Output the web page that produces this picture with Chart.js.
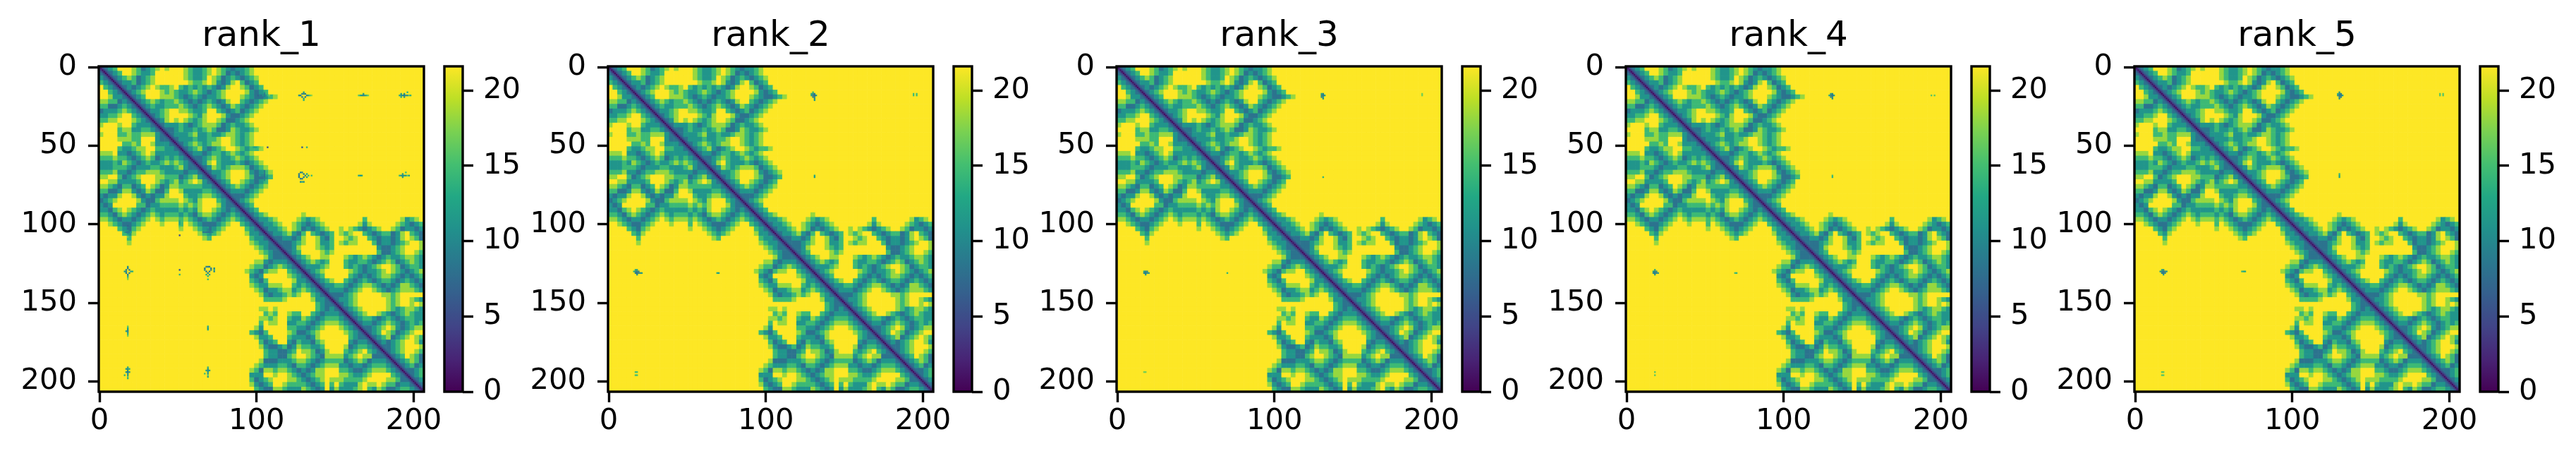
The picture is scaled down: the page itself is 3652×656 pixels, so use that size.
<!DOCTYPE html>
<html><head><meta charset="utf-8">
<style>html,body{margin:0;padding:0;background:#fff;width:3652px;height:656px;overflow:hidden}canvas{position:absolute;top:0}</style>
<script src="https://cdn.jsdelivr.net/npm/chart.js@4"></script>
</head><body>
<script>
const panelNames = ["rank_1","rank_2","rank_3","rank_4","rank_5"];
const xAxisTicks = [0,100,200];
const yAxisTicks = [0,50,100,150,200];
const colorbarTicks = [0,5,10,15,20];
const vMax = 21.6;
const residues = 207;
const coarseCell = 3;
const viridisStops = ["#440154","#482475","#414487","#355f8d","#2a788e","#21918c","#22a884","#44bf70","#7ad151","#bddf26","#fde725"];
// one character per 3x3 residue block
const levelValues = {".":21.6,"-":18.2,"+":14.6,"o":11.2,"#":8.2,"@":6.2};
// upper triangle; "col:chars" tokens start at that column
const distanceRows = [
"@#o+...-+#o+-.-...-+oo+-.-+o#oo+-",
".@#o+..-+oo+......-+oo+-.-+#o#o+-",
"..@#o+-+#o+-......-+oo+.-+#o+o#o+-",
"...@#oo+#o+-.......-++-.-o#o-.+#o+",
"....@#o#o+-.-++-.+o+o+o+o#o-..-+#o+",
".....@#o+-...-+-+oo+-+o#o+-....-o#o+",
"......@#o+...---+o#o+o#oo+-...-+o##o+-",
".......@#o+-+o++-+o#o#o+o#o-..+o#o+-",
"........@#o+oo+++-+o#o+-+o#o-+o#o+-",
".........@#oo+-..--+oo+..+o#o+#o+-",
"..........@#o+-....-+o-...-o##o+-",
"...........@#o-.-.-+o+-..-+##o+-",
"............@#ooo+o#o+---+#o+oo+-",
".............@##o+oo+o+-+##o-+oo+-",
"..............@#ooo+-oo+oo+--+o+-",
"...............@#ooo+oo++-..-+o+-",
"................@#o+-+o+--..-+o+-",
".................@#o+-o#o+-..-+o++-",
"..................@#oo#o++o+-+o+-",
"...................@##o+-+oo+-+o+-",
"....................@#o-.+ooo+o#o+-",
".....................@#o-+o+---+#o+-",
"......................@#oo+-...-o#o+-",
".......................@#o+-...-+##o+",
"........................@#o+..-+o#o+",
".........................@#o+-+o#o+-",
"..........................@#ooo#o+-",
"...........................@###o+-",
"............................@#o+-",
".............................@#o+",
"..............................@#o+",
"...............................@#o+- 43:-",
"................................@#oo+- 42:-+o+- 56:+ 64:-o+-",
"33:@#oo+- 41:-+o#o+- 55:-o- 63:-+o#o+-",
"34:@#oo+- 41:-+#o#o+- 51:-.-+o#o+- 62:-+#oo#o+-",
"35:@#oo+-o#+.+o#o+ 51:-+- 56:+o#o+ 61:+#o-.+o#",
"36:@##oo#o-..-o#+ 52:-+- 57:+o#oo#o-.-+#",
"37:@###o+-..-oo+ 51:-+-- 58:+#oo#o+-..-+",
"38:@##o-...-+o+ 59:o##o+-...-+",
"39:@#o+....-+- 59:+##o+-..-+",
"40:@#o+-..-- 52:-+o+- 57:+o#o+oo+--+o",
"41:@#o+-+o+ 52:+oo++o#o+-+#o+-+o",
"42:@#ooo+- 52:+o+o#o+-..-+#o++o",
"43:@#o+- 53:-+o#oo+-.-+o#o+-",
"44:@#o+ 53:+o#o#o+--+o#o#o+",
"45:@#o+- 52:+o#o+o#o++o#o+o#o",
"46:@#oo++o#o+--+o#o#o--+o#",
"47:@#ooo#o+-..-+o#o+---+o",
"48:@###o+-.....--+-",
"49:@#oo+- 61:-+- 66:-+o+",
"50:@#o+- 61:-+- 66:-.-",
"51:@#o+- 61:-+o+- 66:-+o+",
"52:@#o+- 59:-+o#o+- 66:+oo+",
"53:@#o++o#o+o#o++oo",
"54:@#oo#o+-+o#o+o+",
"55:@##o+-.-o#o+--",
"56:@#o+.-+#o+-..",
"57:@#o+-#o+-.-+",
"58:@#o#o+-..-o",
"59:@##o+-...-",
"60:@#o+-..-+",
"61:@#o+.-+#",
"62:@#o+-+#o",
"63:@#o+#o",
"64:@##o+",
"65:@#o+",
"66:@#o",
"67:@#",
"68:@"
];
// distance by sequence separation along the main diagonal
const diagonalValues = [0.7,3.6,6.2];
// isolated inter-chain contacts: [residue x, residue y, distance]
const rank1Spots = [
[101,18,7],[102,18,9],[103,18,8],[104,18,11],[105,16,12],[105,17,9],[105,18,9],[105,19,9],[105,20,12],[106,18,11],[107,18,14],[108,18,17],
[127,18,11],[128,18,9],[129,17,9],[129,19,9],[130,16,12],[130,17,10],[130,20,12],[131,17,9],[131,19,9],[132,18,9],[133,18,12],[134,18,15],[135,18,18],[130,21,14],
[165,18,16],[166,18,13],[167,18,11],[168,17,12],[168,18,9],[169,18,11],[170,18,14],[171,18,17],
[191,18,13],[192,17,12],[192,18,10],[192,19,13],[193,18,11],[194,17,11],[194,18,8],[194,19,11],[195,18,11],[196,16,14],[196,18,10],[197,18,16],[198,18,14],
[98,51,13],[99,51,12],[100,51,13],[101,51,15],[102,51,17],[107,51,5],[129,51,6],[132,51,14],
[104,66,12],[105,66,9],[105,67,9],[105,68,8],[105,69,8],[105,70,8],[105,71,9],[105,72,10],[105,73,14],[104,69,10],[103,69,10],[102,69,12],[106,69,13],
[127,68,9],[127,69,9],[127,70,9],[128,67,9],[128,71,9],[129,67,10],[129,71,9],[130,68,9],[130,70,9],[131,69,10],[132,68,13],[132,70,12],[133,69,14],[135,69,15],[128,73,10],[130,73,10],[129,73,13],
[165,69,13],[166,69,11],[167,69,13],
[191,69,14],[192,69,11],[193,68,12],[193,69,10],[193,70,12],[194,69,12],[195,67,15],[195,69,11],[197,69,12],[196,69,16]
];
const rank2Spots = [[129,17,13],[129,18,12],[130,16,14],[130,17,10],[130,18,9],[130,19,9],[131,17,9],[131,18,7],[131,19,9],[131,20,10],[131,21,12],[132,18,11],[131,69,13],[131,70,12],[194,17,15],[196,17,15],[194,18,15],[196,18,15]];
const rank3Spots = [[130,17,12],[130,18,10],[130,19,10],[131,17,10],[131,18,8],[131,19,10],[131,20,11],[132,18,12],[131,70,14],[194,17,17],[194,18,17]];
const rank4Spots = [[129,18,13],[130,17,11],[130,18,9],[130,19,10],[131,17,10],[131,18,8],[131,19,9],[131,20,11],[132,18,12],[131,69,15],[131,70,14],[194,18,16],[196,18,16]];
const rank5Spots = [[129,17,13],[129,18,11],[130,16,12],[130,17,9],[130,18,8],[130,19,9],[130,20,11],[131,17,9],[131,18,8],[131,19,9],[132,18,12],[130,68,14],[130,69,13],[130,70,13],[194,17,16],[196,17,16],[194,18,16],[196,18,16]];
const panelSpots = [rank1Spots,rank2Spots,rank3Spots,rank4Spots,rank5Spots];

const FONT = "'DejaVu Sans'";
function hexRgb(h){return [1,3,5].map(i=>parseInt(h.substr(i,2),16));}
const stopRgb = viridisStops.map(hexRgb);
function viridis(v){
  const t=Math.max(0,Math.min(1,v/vMax))*(stopRgb.length-1), i=Math.min(stopRgb.length-2,Math.floor(t)), f=t-i;
  const c=stopRgb[i].map((a,k)=>Math.round(a+(stopRgb[i+1][k]-a)*f));
  return `rgb(${c[0]},${c[1]},${c[2]})`;
}
// expand rows into a square table of levels (distance matrix is symmetric)
const n = distanceRows.length;
const table = Array.from({length:n},()=>Array(n).fill(levelValues["."]));
distanceRows.forEach((row,r)=>{
  row.split(" ").forEach(tok=>{
    const m = tok.indexOf(":")>=0 ? tok.split(":") : ["0",tok];
    const start=+m[0];
    [...m[1]].forEach((ch,k)=>{
      const c=start+k;
      if(c>=r && c<n){table[r][c]=levelValues[ch];table[c][r]=levelValues[ch];}
    });
  });
});
const coarsePoints=[];
for(let r=0;r<n;r++)for(let c=0;c<n;c++)coarsePoints.push({x:coarseCell*c+1,y:coarseCell*r+1,v:table[r][c]});
function finePoints(spots){
  const out=[];
  for(let i=0;i<residues;i++)diagonalValues.forEach((v,d)=>{
    if(i+d<residues){out.push({x:i+d,y:i,v});if(d)out.push({x:i,y:i+d,v});}
  });
  spots.forEach(s=>{out.push({x:s[0],y:s[1],v:s[2]});out.push({x:s[1],y:s[0],v:s[2]});});
  return out;
}
const spines={id:"spines",afterDatasetsDraw(ch){
  const a=ch.chartArea,x=ch.ctx;x.save();x.strokeStyle="#000";x.lineWidth=3.4;
  x.strokeRect(a.left,a.top,a.width,a.height);x.restore();
}};
const L0=140, STEP=721.5, AREA_W=461.5, TOP=94, BOT_MARGIN=101, CB_GAP=490, CB_W=26, H=656;
function tickScale(vals,extra){
  return Object.assign({
    afterBuildTicks:s=>{s.ticks=vals.map(value=>({value}));},
    border:{display:false},
    grid:{drawOnChartArea:false,drawTicks:true,tickLength:15,tickWidth:3.4,tickColor:"#000"},
  },extra);
}
const tickFont={family:FONT,size:41.67};
panelNames.forEach((name,i)=>{
  const leftPx=L0+STEP*i, leftM=130, rightM=60;
  const cv=document.createElement("canvas");
  cv.width=leftM+AREA_W+rightM;cv.height=H;
  cv.style.left=(leftPx-leftM)+"px";
  document.body.appendChild(cv);
  const cellRadius=(k,extra)=>((AREA_W/residues)*k+extra)/Math.SQRT2;
  const fine=finePoints(panelSpots[i]);
  new Chart(cv,{
    type:"scatter",
    data:{datasets:[
      {data:fine,pointStyle:"rect",pointRadius:cellRadius(1,0.15),pointBorderWidth:0,pointBackgroundColor:fine.map(p=>viridis(p.v))},
      {data:coarsePoints,pointStyle:"rect",pointRadius:cellRadius(coarseCell,0.6),pointBorderWidth:0,pointBackgroundColor:coarsePoints.map(p=>viridis(p.v))}
    ]},
    options:{
      responsive:false,animation:false,devicePixelRatio:1,
      layout:{padding:{left:0,right:rightM,top:0,bottom:0}},
      plugins:{legend:{display:false},tooltip:{enabled:false},
        title:{display:true,text:name,fullSize:false,color:"#000",font:{family:FONT,size:50,weight:"normal",lineHeight:1.2},padding:{top:22,bottom:12}}},
      events:[],
      scales:{
        x:tickScale(xAxisTicks,{type:"linear",min:-0.5,max:residues-0.5,afterFit:s=>{s.height=BOT_MARGIN;},
          ticks:{color:"#000",font:tickFont,padding:2,autoSkip:false,maxRotation:0,callback:v=>String(v)}}),
        y:tickScale(yAxisTicks,{type:"linear",reverse:true,min:-0.5,max:residues-0.5,afterFit:s=>{s.width=leftM;},
          ticks:{color:"#000",font:tickFont,padding:16,autoSkip:false,callback:v=>String(v)}})
      }
    },
    plugins:[spines]
  });
  // colour bar
  const cb=document.createElement("canvas");
  const cbLeftM=10, cbRightM=110;
  cb.width=cbLeftM+CB_W+cbRightM;cb.height=H;
  cb.style.left=(leftPx+CB_GAP-cbLeftM)+"px";
  document.body.appendChild(cb);
  new Chart(cb,{
    type:"bar",
    data:{labels:[""],datasets:[{data:[[0,vMax]],barPercentage:1,categoryPercentage:1,borderSkipped:false,
      backgroundColor:c=>{
        const a=c.chart.chartArea;if(!a)return viridisStops[5];
        const g=c.chart.ctx.createLinearGradient(0,a.bottom,0,a.top);
        viridisStops.forEach((s,k)=>g.addColorStop(k/(viridisStops.length-1),s));
        return g;
      }}]},
    options:{
      responsive:false,animation:false,devicePixelRatio:1,events:[],
      layout:{padding:{left:cbLeftM,right:0,top:TOP,bottom:BOT_MARGIN}},
      plugins:{legend:{display:false},tooltip:{enabled:false},title:{display:false}},
      scales:{
        x:{display:false},
        y:tickScale(colorbarTicks,{position:"right",type:"linear",min:0,max:vMax,afterFit:s=>{s.width=cbRightM;},
          ticks:{color:"#000",font:tickFont,padding:14,autoSkip:false,callback:v=>String(v)}})
      }
    },
    plugins:[spines]
  });
});
</script>
</body></html>
